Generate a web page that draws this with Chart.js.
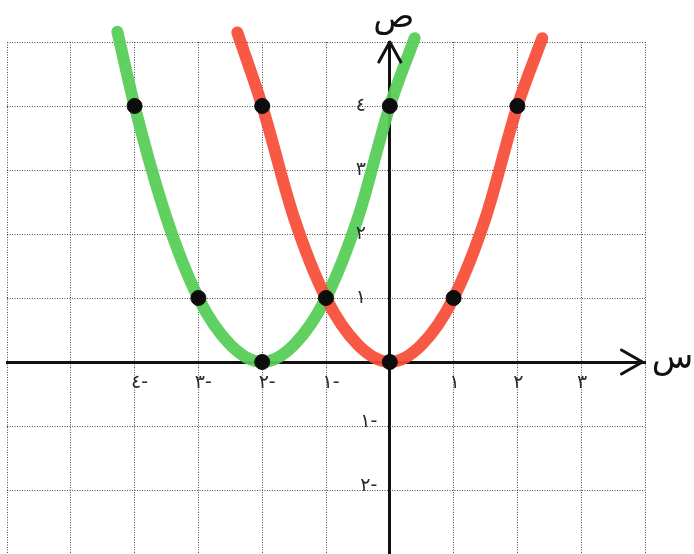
<!DOCTYPE html>
<html>
<head>
<meta charset="utf-8">
<script src="https://cdn.jsdelivr.net/npm/chart.js@4"></script>
<style>
  html, body { margin: 0; padding: 0; background: #fff; }
  #box { width: 694px; height: 554px; }
</style>
</head>
<body>
<div id="box"><canvas id="grafico"></canvas></div>
<script>
// y = (x + 2)^2  (green) — marked points plus the drawn ends
const verdeX = [-4.27, -4, -3.5, -3, -2.5, -2, -1.5, -1, -0.5, 0, 0.39];
const verdeY = [5.16, 4, 2.25, 1, 0.27, 0, 0.27, 1, 2.25, 4, 5.06];

// y = x^2  (red)
const vermelhoX = [-2.39, -2, -1.5, -1, -0.5, 0, 0.5, 1, 1.5, 2, 2.39];
const vermelhoY = [5.15, 4, 2.25, 1, 0.27, 0, 0.27, 1, 2.25, 4, 5.06];

// black dots marked on the paper
const pontosX = [-4, -3, -2, -1, 0, -2, 0, 1, 2];
const pontosY = [4, 1, 0, 1, 4, 4, 0, 1, 4];

// tick labels (Arabic-Indic digits, minus written after)
const ticksX = [-4, -3, -2, -1, 1, 2, 3];
const rotulosX = ['٤-', '٣-', '٢-', '١-', '١', '٢', '٣'];
const ticksY = [4, 3, 2, 1, -1, -2];
const rotulosY = ['٤', '٣', '٢', '١', '١-', '٢-'];

const pares = (xs, ys) => xs.map((x, i) => ({ x: x, y: ys[i] }));

const corGrade = 'rgba(55,55,55,0.9)';

// tick labels beside the axes, arrowheads and the letters س / ص
const eixos = {
  id: 'eixos',
  afterDraw(chart) {
    const c = chart.ctx;
    const sx = chart.scales.x, sy = chart.scales.y;
    const x0 = sx.getPixelForValue(0), y0 = sy.getPixelForValue(0);
    const topo = chart.chartArea.top;
    const pontaX = sx.getPixelForValue(3.96);
    c.save();
    c.fillStyle = '#2b2b2b';
    c.textBaseline = 'middle';
    c.textAlign = 'center';
    c.font = '19px "DejaVu Sans"';
    ticksX.forEach((v, i) => {
      const desloc = v < 0 ? 5 : 1;
      c.fillText(rotulosX[i], sx.getPixelForValue(v) + desloc, y0 + 21);
    });
    ticksY.forEach((v, i) => {
      const px = v < 0 ? x0 - 21 : x0 - 29;
      const py = v < 0 ? sy.getPixelForValue(v) - 4 : sy.getPixelForValue(v);
      c.fillText(rotulosY[i], px, py);
    });

    c.strokeStyle = '#111';
    c.lineWidth = 3;
    c.lineCap = 'round';
    c.lineJoin = 'round';
    c.beginPath();
    c.moveTo(x0 - 11, topo + 20);
    c.lineTo(x0, topo);
    c.lineTo(x0 + 11, topo + 20);
    c.stroke();
    c.beginPath();
    c.moveTo(pontaX - 21, y0 - 12);
    c.lineTo(pontaX, y0);
    c.lineTo(pontaX - 21, y0 + 12);
    c.stroke();

    c.fillStyle = '#111';
    c.font = '34px "DejaVu Sans"';
    c.fillText('ص', x0 + 4, topo - 24);
    c.fillText('س', pontaX + 30, y0 - 3);
    c.restore();
  }
};

new Chart(document.getElementById('grafico'), {
  type: 'scatter',
  data: {
    datasets: [
      {
        label: 'pontos',
        data: pares(pontosX, pontosY),
        showLine: false,
        pointRadius: 7.5,
        pointBackgroundColor: '#0d0d0d',
        pointBorderColor: '#0d0d0d',
        pointBorderWidth: 1
      },
      {
        label: 'ص = س²',
        data: pares(vermelhoX, vermelhoY),
        showLine: true,
        borderColor: 'rgba(248,76,54,0.93)',
        borderWidth: 12,
        borderCapStyle: 'round',
        cubicInterpolationMode: 'monotone',
        pointRadius: 0,
        clip: false
      },
      {
        label: 'ص = (س + ٢)²',
        data: pares(verdeX, verdeY),
        showLine: true,
        borderColor: 'rgba(84,204,84,0.93)',
        borderWidth: 12,
        borderCapStyle: 'round',
        cubicInterpolationMode: 'monotone',
        pointRadius: 0,
        clip: false
      }
    ]
  },
  options: {
    responsive: true,
    maintainAspectRatio: false,
    animation: false,
    layout: { autoPadding: false, padding: { left: 7, right: 49, top: 42, bottom: 0 } },
    plugins: {
      legend: { display: false },
      tooltip: { enabled: false }
    },
    scales: {
      x: {
        type: 'linear',
        min: -6,
        max: 4,
        position: { y: 0 },
        grid: { color: corGrade, lineWidth: 1, drawTicks: false },
        border: { display: true, color: '#111', width: 3, dash: [1, 1.5] },
        ticks: { display: false, stepSize: 1 }
      },
      y: {
        type: 'linear',
        min: -3,
        max: 5,
        position: { x: 0 },
        grid: { color: corGrade, lineWidth: 1, drawTicks: false },
        border: { display: true, color: '#111', width: 3, dash: [1, 1.5] },
        ticks: { display: false, stepSize: 1 }
      }
    }
  },
  plugins: [eixos]
});
</script>
</body>
</html>
